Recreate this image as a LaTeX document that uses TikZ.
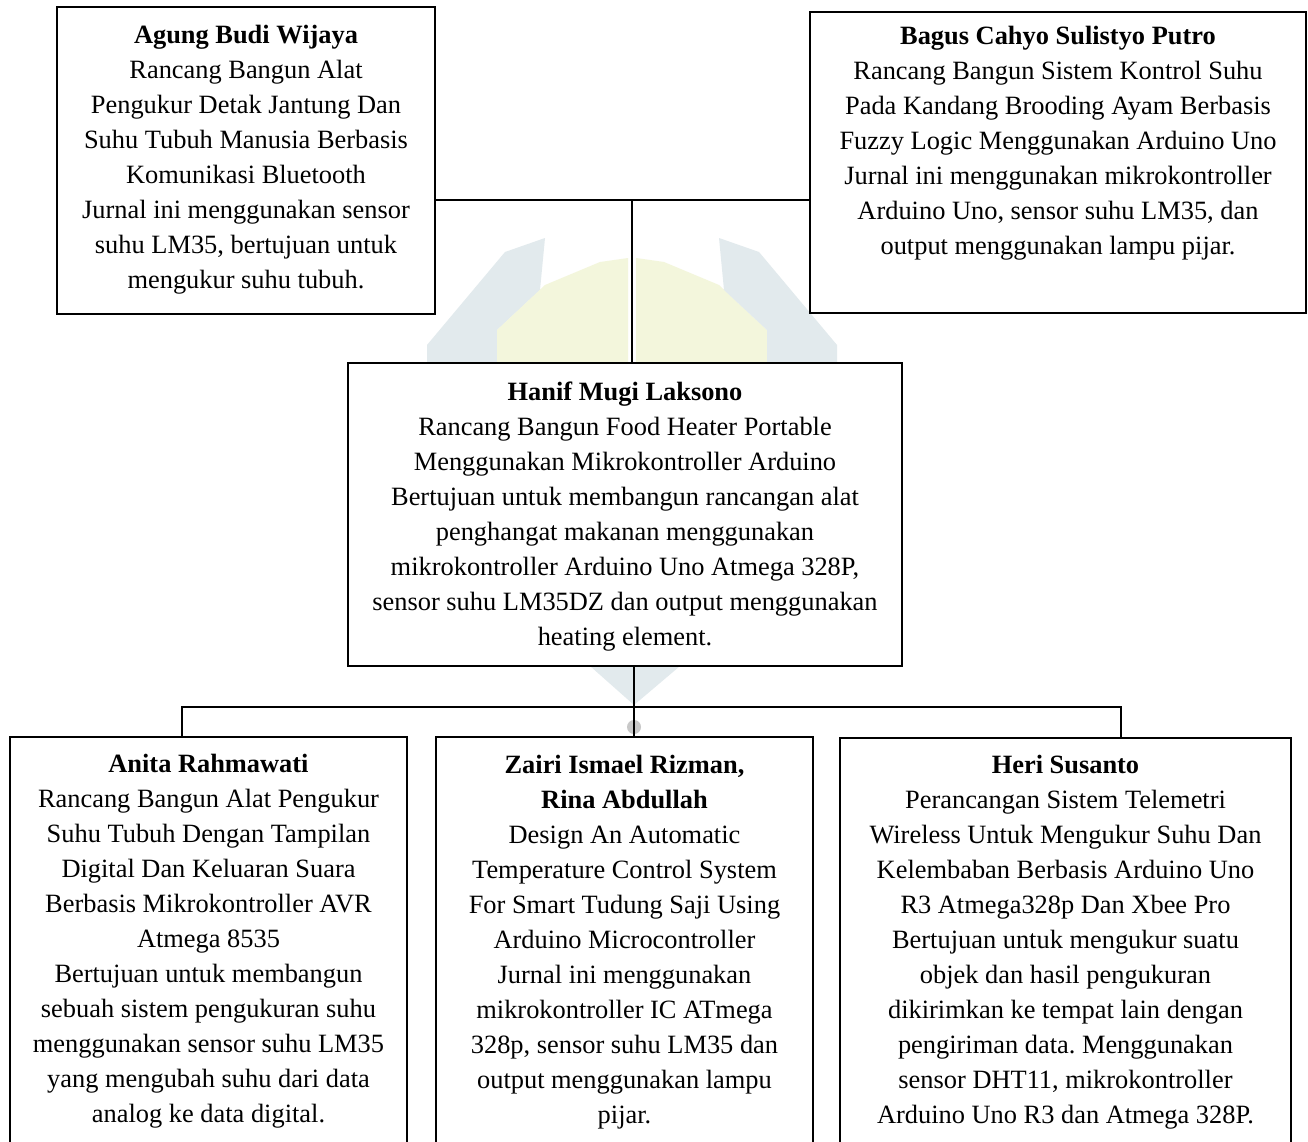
\documentclass[tikz,border=0pt]{standalone}
\usepackage{fontspec}
\setmainfont{Liberation Serif}
\frenchspacing
\definecolor{wmteal}{RGB}{226,234,237}
\definecolor{wmyel}{RGB}{243,246,220}
\definecolor{wmgrey}{RGB}{200,200,200}
\begin{document}
\begin{tikzpicture}[x=1pt,y=-1pt,
  box/.style={draw=black, fill=white, line width=1.8pt, rectangle, inner sep=0pt, outer sep=0pt},
  txt/.style={anchor=north, align=center, inner sep=0pt, font=\fontsize{26.4}{35}\selectfont},
  link/.style={draw=black, line width=1.5pt}]
\useasboundingbox (0,0) rectangle (1308,1142);
\clip (0,0) rectangle (1308,1142);
\fill[white] (0,0) rectangle (1308,1142);
% faint watermark
\fill[wmteal] (427,363) -- (427,345) -- (505,252) -- (545,238) -- (540,290) -- (497,330) -- (497,363) -- cycle;
\fill[wmyel] (497,363) -- (497,330) -- (545,285) -- (600,262) -- (628,258) -- (628,363) -- cycle;
\fill[wmyel] (636,363) -- (636,258) -- (664,262) -- (719,285) -- (767,330) -- (767,363) -- cycle;
\fill[wmteal] (767,363) -- (767,330) -- (724,290) -- (719,238) -- (759,252) -- (837,345) -- (837,363) -- cycle;
\fill[wmteal] (590,666) -- (680,666) -- (634,705) -- cycle;
\fill[wmgrey] (634,727) circle[radius=7];
% boxes
\node[box, minimum width=378pt, minimum height=307pt] (agung) at (246,160.5) {};
\node[box, minimum width=496pt, minimum height=301pt] (bagus) at (1058,162.5) {};
\node[box, minimum width=554pt, minimum height=303pt] (hanif) at (625,514.5) {};
\node[box, minimum width=397pt, minimum height=433pt] (anita) at (208.5,953.5) {};
\node[box, minimum width=377pt, minimum height=433pt] (zairi) at (624.5,953.5) {};
\node[box, minimum width=451pt, minimum height=432pt] (heri) at (1065.5,954) {};
% junctions
\coordinate (jtop) at (632,200);
\coordinate (jbot) at (634,707);
\coordinate (bl) at (182,707);
\coordinate (br) at (1121,707);
% connectors
\draw[link] (agung.east |- jtop) -- (bagus.west |- jtop);
\draw[link] (jtop) -- (jtop |- hanif.north);
\draw[link] (jbot |- hanif.south) -- (jbot |- zairi.north);
\draw[link] (bl |- anita.north) -- (bl) -- (br) -- (br |- heri.north);
% texts
\node[txt] (agungT) at (246,18.5) {\strut\textbf{Agung Budi Wijaya}\\
Rancang Bangun Alat\\
Pengukur Detak Jantung Dan\\
Suhu Tubuh Manusia Berbasis\\
Komunikasi Bluetooth\\
Jurnal ini menggunakan sensor\\
suhu LM35, bertujuan untuk\\
mengukur suhu tubuh.};
\node[txt] (bagusT) at (1058,19.5) {\strut\textbf{Bagus Cahyo Sulistyo Putro}\\
Rancang Bangun Sistem Kontrol Suhu\\
Pada Kandang Brooding Ayam Berbasis\\
Fuzzy Logic Menggunakan Arduino Uno\\
Jurnal ini menggunakan mikrokontroller\\
Arduino Uno, sensor suhu LM35, dan\\
output menggunakan lampu pijar.};
\node[txt] (hanifT) at (625,375.5) {\strut\textbf{Hanif Mugi Laksono}\\
Rancang Bangun Food Heater Portable\\
Menggunakan Mikrokontroller Arduino\\
Bertujuan untuk membangun rancangan alat\\
penghangat makanan menggunakan\\
mikrokontroller Arduino Uno Atmega 328P,\\
sensor suhu LM35DZ dan output menggunakan\\
heating element.};
\node[txt] (anitaT) at (208.5,747.5) {\strut\textbf{Anita Rahmawati}\\
Rancang Bangun Alat Pengukur\\
Suhu Tubuh Dengan Tampilan\\
Digital Dan Keluaran Suara\\
Berbasis Mikrokontroller AVR\\
Atmega 8535\\
Bertujuan untuk membangun\\
sebuah sistem pengukuran suhu\\
menggunakan sensor suhu LM35\\
yang mengubah suhu dari data\\
analog ke data digital.};
\node[txt] (zairiT) at (624.5,748.5) {\strut\textbf{Zairi Ismael Rizman,}\\
\textbf{Rina Abdullah}\\
Design An Automatic\\
Temperature Control System\\
For Smart Tudung Saji Using\\
Arduino Microcontroller\\
Jurnal ini menggunakan\\
mikrokontroller IC ATmega\\
328p, sensor suhu LM35 dan\\
output menggunakan lampu\\
pijar.};
\node[txt] (heriT) at (1065.5,748.5) {\strut\textbf{Heri Susanto}\\
Perancangan Sistem Telemetri\\
Wireless Untuk Mengukur Suhu Dan\\
Kelembaban Berbasis Arduino Uno\\
R3 Atmega328p Dan Xbee Pro\\
Bertujuan untuk mengukur suatu\\
objek dan hasil pengukuran\\
dikirimkan ke tempat lain dengan\\
pengiriman data. Menggunakan\\
sensor DHT11, mikrokontroller\\
Arduino Uno R3 dan Atmega 328P.};
\end{tikzpicture}
\end{document}
